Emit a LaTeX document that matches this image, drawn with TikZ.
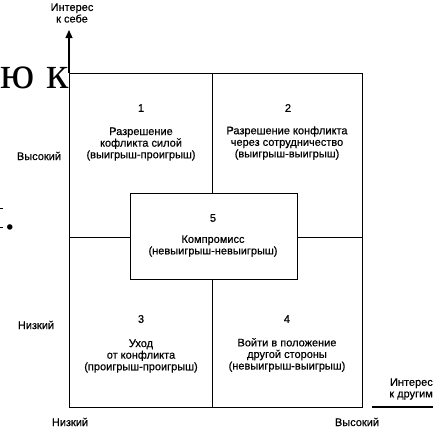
\documentclass[tikz,border=0pt]{standalone}
\usepackage{fontspec}
\setmainfont{Liberation Sans}
\newfontfamily\scanfont{Liberation Sans}[FakeBold=0.5]
\newfontfamily\scanserif{Liberation Serif}
\usetikzlibrary{arrows.meta}
\tikzset{
  quad/.style={draw=black, line width=1.1pt, inner sep=0pt, anchor=north west},
  captxt/.style={align=center, inner sep=0pt, font=\scanfont\fontsize{11}{11.6}\selectfont},
  numtxt/.style={inner sep=0pt, font=\scanfont\fontsize{11}{11.6}\selectfont},
  labtxt/.style={inner sep=0pt, font=\scanfont\fontsize{11}{11.6}\selectfont},
  axisarrow/.style={line width=1.1pt, -{Triangle[length=8pt,width=7pt]}},
  axisline/.style={line width=1.1pt},
  bigserif/.style={inner sep=0pt, font=\scanserif\fontsize{46}{46}\selectfont}
}
\begin{document}
\begin{tikzpicture}[x=1pt,y=-1pt]
\useasboundingbox (0,0) rectangle (433,429);

% stray text from the facing page
\node[bigserif, anchor=base east] (scrap) at (69,88) {ю к};
\node[bigserif, anchor=base] (scrapdot) at (10,229) {.};
\draw[line width=1pt] (0,208) -- (3,208);
\draw[line width=1pt] (0,227) -- (3,227);

% four quadrants
\node[quad, minimum width=143pt, minimum height=164pt] (q1) at (69,73) {};
\node[quad, minimum width=150pt, minimum height=164pt] (q2) at (212,73) {};
\node[quad, minimum width=143pt, minimum height=170pt] (q3) at (69,237) {};
\node[quad, minimum width=150pt, minimum height=170pt] (q4) at (212,237) {};
% central compromise box
\node[quad, fill=white, minimum width=167pt, minimum height=86pt] (q5) at (130,193) {};

% axes
\coordinate (ytip) at (69,30);
\draw[axisarrow] (q1.north west) -- (ytip);
\coordinate (xs) at (372,407);
\coordinate (xe) at (433,407);
\draw[axisline] (xs) -- (xe);

% quadrant captions
\node[numtxt] (n1) at (141,108) {1};
\node[captxt] (c1) at (141,144) {Разрешение\\кофликта силой\\(выигрыш-проигрыш)};
\node[numtxt] (n2) at (288,108) {2};
\node[captxt] (c2) at (287,143) {Разрешение конфликта\\через сотрудничество\\(выигрыш-выигрыш)};
\node[numtxt] (n5) at (213,218) {5};
\node[captxt] (c5) at (213,246) {Компромисс\\(невыигрыш-невыигрыш)};
\node[numtxt] (n3) at (141,319) {3};
\node[captxt] (c3) at (141,356) {Уход\\от конфликта\\(проигрыш-проигрыш)};
\node[numtxt] (n4) at (287,319) {4};
\node[captxt] (c4) at (287,355) {Войти в положение\\другой стороны\\(невыигрыш-выигрыш)};

% axis labels
\node[captxt] (yname) at (72,13) {Интерес\\к себе};
\node[captxt, align=right, anchor=east] (xname) at (433,389) {Интерес\\к другим};
\node[labtxt] (yhigh) at (39,156) {Высокий};
\node[labtxt] (ylow) at (36,325) {Низкий};
\node[labtxt] (xlow) at (70,422) {Низкий};
\node[labtxt] (xhigh) at (357,422) {Высокий};
\end{tikzpicture}
\end{document}
